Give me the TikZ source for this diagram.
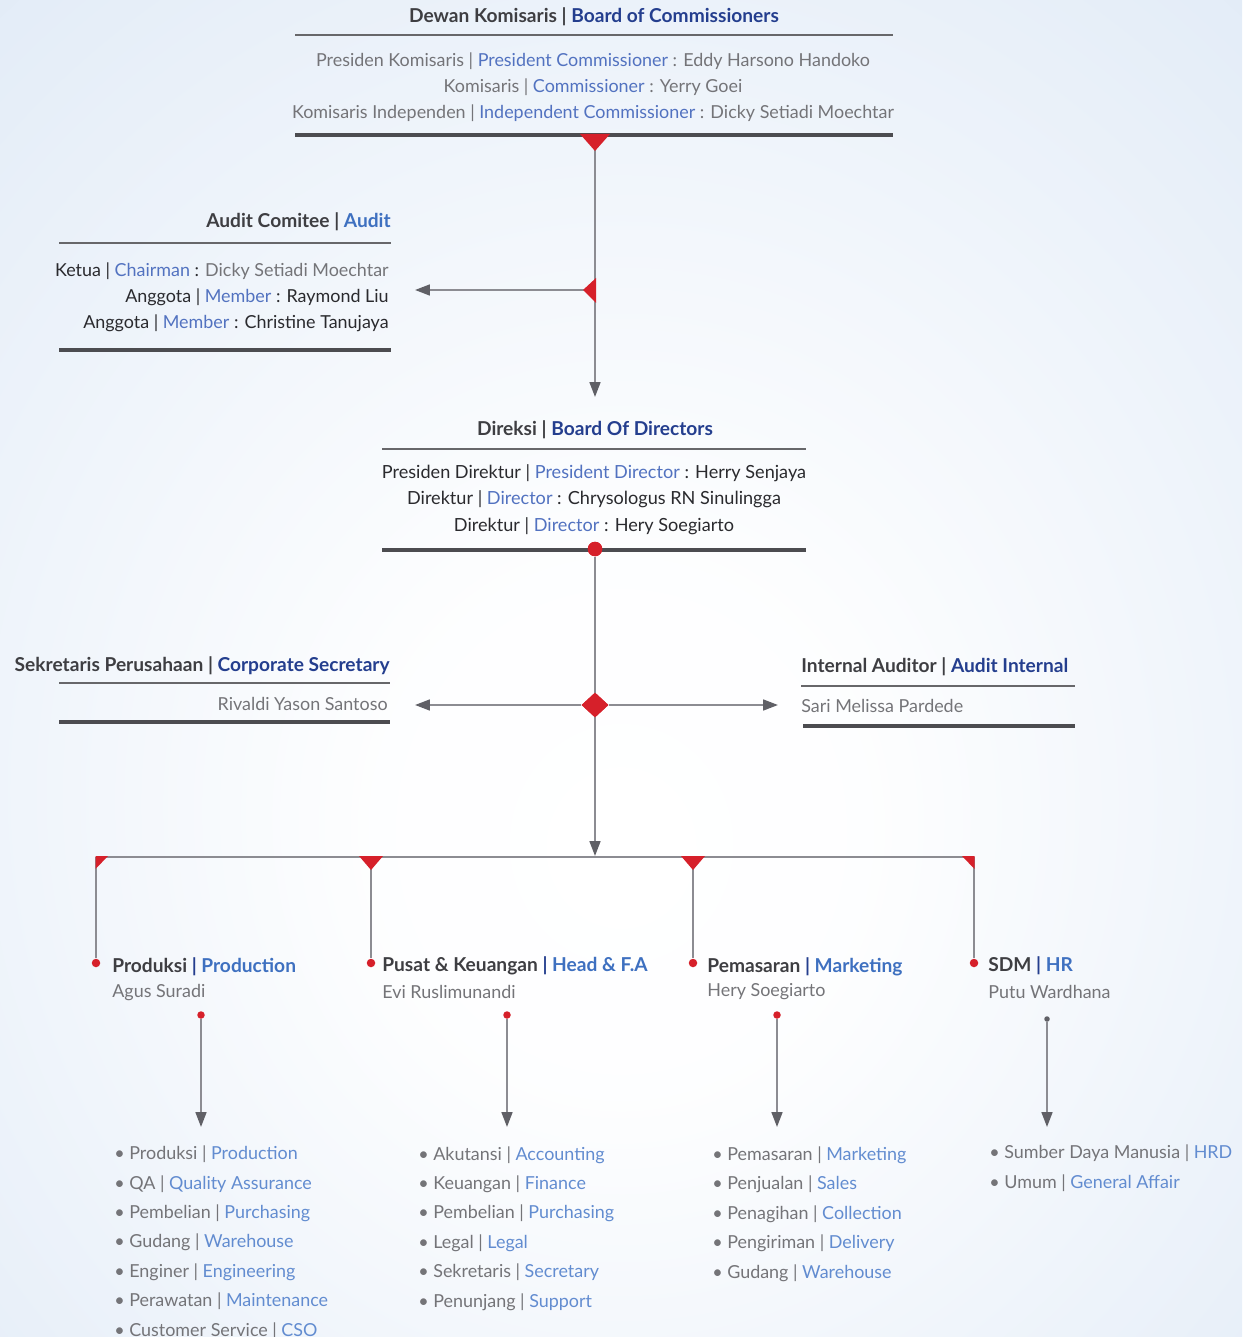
\documentclass[tikz,border=0pt]{standalone}
\usepackage{fontspec}
\setmainfont{Lato}
\usetikzlibrary{arrows.meta, positioning, shapes.geometric}
\definecolor{bgblue}{RGB}{200,218,240}
\definecolor{headgray}{RGB}{62,62,66}
\definecolor{navy1}{RGB}{36,62,142}
\definecolor{blue1}{RGB}{62,112,192}
\definecolor{blue2}{RGB}{82,114,192}
\definecolor{blue3}{RGB}{98,140,208}
\definecolor{gray1}{RGB}{116,116,120}
\definecolor{dark1}{RGB}{42,42,46}
\definecolor{red1}{RGB}{214,32,42}
\definecolor{line1}{RGB}{140,140,146}
\definecolor{rule1}{RGB}{76,76,80}
\definecolor{tip1}{RGB}{96,96,102}
\pgfdeclareradialshading{bgglow}{\pgfpoint{0bp}{-7bp}}{color(0bp)=(white); color(10bp)=(white!97!bgblue); color(50bp)=(bgblue!72!white); color(70bp)=(bgblue)}

\tikzset{
  title/.style={font=\fontsize{10.9}{13}\selectfont\bfseries, text=headgray, inner sep=0pt, anchor=base},
  body/.style={font=\fontsize{10.2}{15}\selectfont, inner sep=0pt, anchor=base},
  depthead/.style={font=\fontsize{10.9}{13}\selectfont\bfseries, text=headgray, inner sep=0pt, anchor=base west},
  listbox/.style={font=\fontsize{10.2}{16.7}\selectfont, text=gray1, inner sep=0pt, anchor=base west, align=left},
  thinrule/.style={draw=rule1!85, line width=0.8pt},
  thickrule/.style={draw=rule1, line width=1.8pt},
  link/.style={draw=line1, line width=1.1pt},
  arrow/.style={link, -{Triangle[width=6.2pt,length=8.5pt,color=tip1]}},
  reddot/.style={circle, fill=red1, inner sep=0pt, minimum size=#1},
  reddot/.default=0.17cm
}

\begin{document}
\begin{tikzpicture}[x=0.02cm, y=-0.02cm]
  % Background
  \shade[shading=bgglow] (0,0) rectangle (1242,1337);
  \useasboundingbox (0,0) rectangle (1242,1337);

  % Board of Commissioners
  \node[title] (bochead) at (594,23) {Dewan Komisaris | \textcolor{navy1}{Board of Commissioners}};
  \draw[thinrule] (295,35) -- (893,35);
  \node[body, text=gray1, align=center] (bocbody) at (593,119) {Presiden Komisaris | \textcolor{blue2}{President Commissioner} : Eddy Harsono Handoko\\
    Komisaris | \textcolor{blue2}{Commissioner} : Yerry Goei\\
    Komisaris Independen | \textcolor{blue2}{Independent Commissioner} : Dicky Setiadi Moechtar};
  \draw[thickrule] (295,135) -- (893,135);

  % Audit committee
  \node[title, anchor=base east] (audhead) at (391,228) {Audit Comitee | \textcolor{blue1}{Audit}};
  \draw[thinrule] (59,243) -- (391,243);
  \node[body, text=dark1, align=right, anchor=base east] (audbody) at (389,329) {Ketua | \textcolor{blue2}{Chairman} : \textcolor{gray1}{Dicky Setiadi Moechtar}\\
    Anggota | \textcolor{blue2}{Member} : Raymond Liu\\
    Anggota | \textcolor{blue2}{Member} : Christine Tanujaya};
  \draw[thickrule] (59,350) -- (391,350);

  % Board of Directors
  \node[title] (dirhead) at (595,436) {Direksi | \textcolor{navy1}{Board Of Directors}};
  \draw[thinrule] (382,449) -- (806,449);
  \node[body, text=dark1, align=center, font=\fontsize{10.3}{15}\selectfont] (dirbody) at (594,531) {Presiden Direktur | \textcolor{blue2}{President Director} : Herry Senjaya\\
    Direktur | \textcolor{blue2}{Director} : Chrysologus RN Sinulingga\\
    Direktur | \textcolor{blue2}{Director} : Hery Soegiarto};
  \draw[thickrule] (382,550) -- (806,550);

  % Corporate secretary and internal auditor
  \node[title, anchor=base east] (sechead) at (390,671) {Sekretaris Perusahaan | \textcolor{navy1}{Corporate Secretary}};
  \draw[thinrule] (59,683) -- (390,683);
  \node[body, text=gray1, anchor=base east] (secname) at (388,710) {Rivaldi Yason Santoso};
  \draw[thickrule] (59,722) -- (390,722);
  \node[title, anchor=base west] (iahead) at (801,672) {Internal Auditor | \textcolor{navy1}{Audit Internal}};
  \draw[thinrule] (801,686) -- (1075,686);
  \node[body, text=gray1, anchor=base west] (ianame) at (801,712) {Sari Melissa Pardede};
  \draw[thickrule] (803,726) -- (1075,726);

  % Connectors in the upper part
  \coordinate (bocbot) at (595,135);
  \coordinate (audjoin) at (595,290);
  \coordinate (audtip) at (415,290);
  \coordinate (dirtip) at (595,397);
  \coordinate (sectip) at (415,705);
  \coordinate (iatip) at (778,705);
  \coordinate (bustip) at (595,856);
  \node[reddot=0.29cm] (dirdot) at (595,549) {};
  \node[diamond, fill=red1, inner sep=0pt, minimum width=0.54cm, minimum height=0.5cm] (hub) at (595,705) {};
  \draw[arrow] (bocbot) -- (dirtip);
  \draw[arrow] (audjoin) -- (audtip);
  \draw[arrow] (dirdot) -- (bustip);
  \draw[arrow] (hub) -- (sectip);
  \draw[arrow] (hub) -- (iatip);
  \node[reddot=0.29cm] at (dirdot) {};
  \node[diamond, fill=red1, inner sep=0pt, minimum width=0.54cm, minimum height=0.5cm] at (hub) {};
  \fill[red1] (580,134) -- (610,134) -- (595,151) -- cycle;
  \fill[red1] (596,278) -- (596,303) -- (583,290) -- cycle;

  % Department bus
  \draw[link] (96,857) -- (974,857);
  \node[reddot] (proddot) at (96,963) {};
  \node[reddot] (findot) at (371,963) {};
  \node[reddot] (mktdot) at (693,963) {};
  \node[reddot] (hrdot) at (974,963) {};
  \draw[link] (96,857) -- (proddot);
  \draw[link] (371,857) -- (findot);
  \draw[link] (693,857) -- (mktdot);
  \draw[link] (974,857) -- (hrdot);
  \fill[red1] (95.5,856) -- (108,856) -- (95.5,869) -- cycle;
  \fill[red1] (359,856) -- (383,856) -- (371,870) -- cycle;
  \fill[red1] (681,856) -- (705,856) -- (693,870) -- cycle;
  \fill[red1] (962,856) -- (974.5,856) -- (974.5,869) -- cycle;

  % Departments
  \node[depthead] (prodhead) at (112,972) {Produksi \textcolor{navy1}{|} \textcolor{blue1}{Production}};
  \node[body, text=gray1, anchor=base west] (prodname) at (112,997) {Agus Suradi};
  \node[depthead] (finhead) at (382,971) {Pusat \& Keuangan \textcolor{navy1}{|} \textcolor{blue1}{Head \& F.A}};
  \node[body, text=gray1, anchor=base west] (finname) at (382,998) {Evi Ruslimunandi};
  \node[depthead] (mkthead) at (707,972) {Pemasaran \textcolor{navy1}{|} \textcolor{blue1}{Marketing}};
  \node[body, text=gray1, anchor=base west] (mktname) at (707,996) {Hery Soegiarto};
  \node[depthead] (hrhead) at (988,971) {SDM \textcolor{navy1}{|} \textcolor{blue1}{HR}};
  \node[body, text=gray1, anchor=base west] (hrname) at (988,998) {Putu Wardhana};

  % Units
  \node[reddot=0.15cm] (prodsub) at (201,1015) {};
  \node[reddot=0.15cm] (finsub) at (507,1015) {};
  \node[reddot=0.15cm] (mktsub) at (777,1015) {};
  \node[circle, fill=tip1, inner sep=0pt, minimum size=0.11cm] (hrsub) at (1047,1019) {};
  \coordinate (prodtip) at (201,1127);
  \coordinate (fintip) at (507,1127);
  \coordinate (mkttip) at (777,1127);
  \coordinate (hrtip) at (1047,1127);
  \draw[arrow] (prodsub) -- (prodtip);
  \draw[arrow] (finsub) -- (fintip);
  \draw[arrow] (mktsub) -- (mkttip);
  \draw[arrow] (hrsub) -- (hrtip);

  \node[listbox] (prodlist) at (114,1336) {• Produksi | \textcolor{blue3}{Production}\\
    • QA | \textcolor{blue3}{Quality Assurance}\\
    • Pembelian | \textcolor{blue3}{Purchasing}\\
    • Gudang | \textcolor{blue3}{Warehouse}\\
    • Enginer | \textcolor{blue3}{Engineering}\\
    • Perawatan | \textcolor{blue3}{Maintenance}\\
    • Customer Service | \textcolor{blue3}{CSO}};
  \node[listbox] (finlist) at (418,1307) {• Akutansi | \textcolor{blue3}{Accounting}\\
    • Keuangan | \textcolor{blue3}{Finance}\\
    • Pembelian | \textcolor{blue3}{Purchasing}\\
    • Legal | \textcolor{blue3}{Legal}\\
    • Sekretaris | \textcolor{blue3}{Secretary}\\
    • Penunjang | \textcolor{blue3}{Support}};
  \node[listbox] (mktlist) at (712,1278) {• Pemasaran | \textcolor{blue3}{Marketing}\\
    • Penjualan | \textcolor{blue3}{Sales}\\
    • Penagihan | \textcolor{blue3}{Collection}\\
    • Pengiriman | \textcolor{blue3}{Delivery}\\
    • Gudang | \textcolor{blue3}{Warehouse}};
  \node[listbox] (hrlist) at (989,1188) {• Sumber Daya Manusia | \textcolor{blue3}{HRD}\\
    • Umum | \textcolor{blue3}{General Affair}};
\end{tikzpicture}
\end{document}
